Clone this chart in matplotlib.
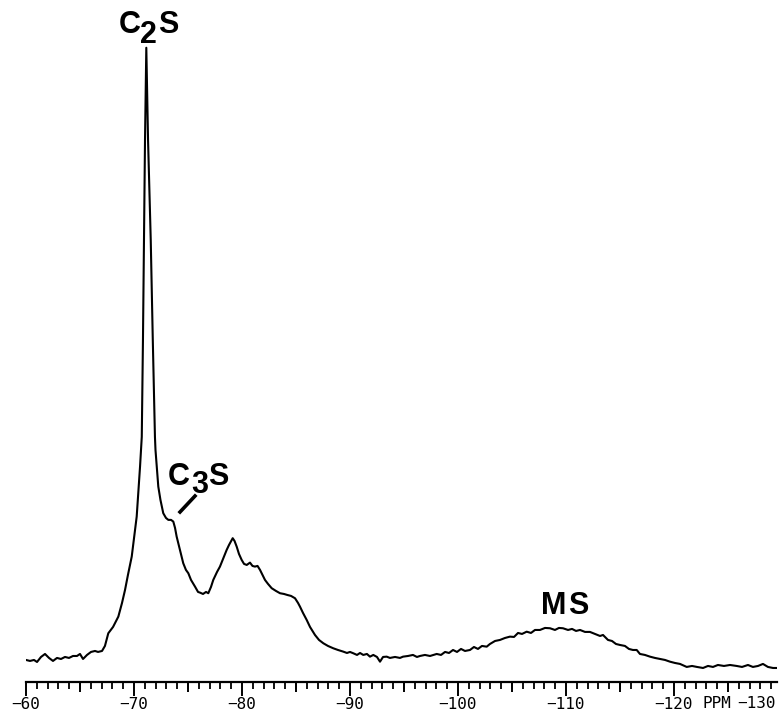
import matplotlib
matplotlib.use("Agg")
import matplotlib.pyplot as plt
from matplotlib.ticker import MultipleLocator

# ---- data: chemical shift (ppm) and relative intensity (peak = 100) ----
shift_ppm = [
    -60.00, -60.37, -60.74, -61.02, -61.39, -61.76, -62.13, -62.50, -62.87, -63.24,
    -63.61, -63.98, -64.35, -64.72, -65.00, -65.28, -65.65, -66.02, -66.39, -66.67,
    -67.04, -67.31, -67.62, -68.06, -68.55, -68.89, -69.17, -69.44, -69.79, -70.00,
    -70.25, -70.42, -70.56, -70.72, -70.83, -70.93, -71.02, -71.14, -71.30, -71.55,
    -71.74, -71.94, -71.99, -72.25, -72.45, -72.71, -72.96, -73.18, -73.43, -73.64,
    -73.80, -73.95, -74.26, -74.56, -74.81, -75.03, -75.28, -75.65, -75.93, -76.11,
    -76.39, -76.67, -76.88, -77.13, -77.34, -77.69, -77.96, -78.24, -78.58, -78.80,
    -79.14, -79.31, -79.51, -79.72, -79.97, -80.19, -80.44, -80.74, -80.97, -81.20,
    -81.44, -81.67, -81.90, -82.13, -82.41, -82.75, -83.15, -83.52, -83.89, -84.19,
    -84.54, -84.91, -85.19, -85.37, -85.65, -85.99, -86.30, -86.76, -87.13, -87.53,
    -87.96, -88.45, -88.89, -89.38, -89.72, -90.00, -90.31, -90.65, -90.93, -91.23,
    -91.57, -91.85, -92.16, -92.50, -92.78, -93.06, -93.40, -93.70, -94.17, -94.63,
    -94.91, -95.37, -95.83, -96.20, -96.48, -96.94, -97.41, -98.03, -98.43, -98.80,
    -99.17, -99.54, -99.91, -100.28, -100.65, -101.11, -101.48, -101.85, -102.22, -102.66,
    -102.96, -103.43, -103.89, -104.35, -104.81, -105.19, -105.56, -105.93, -106.36, -106.76,
    -107.13, -107.59, -108.06, -108.52, -108.98, -109.35, -109.72, -110.19, -110.56, -110.93,
    -111.30, -111.76, -112.22, -112.69, -113.15, -113.43, -113.89, -114.26, -114.63, -115.00,
    -115.46, -115.83, -116.20, -116.55, -116.85, -117.31, -117.78, -118.24, -118.70, -119.17,
    -119.63, -120.09, -120.56, -121.18, -121.67, -122.13, -122.69, -123.15, -123.61, -124.07,
    -124.63, -125.19, -125.81, -126.30, -126.85, -127.31, -127.78, -128.24, -128.70, -129.17,
    -129.54,
]
intensity = [
    0.00, -0.16, 0.00, -0.33, 0.49, 0.98, 0.33, -0.16, 0.33, 0.16,
    0.49, 0.33, 0.65, 0.65, 0.98, 0.16, 0.82, 1.31, 1.47, 1.31,
    1.47, 2.29, 4.36, 5.39, 7.08, 9.31, 11.44, 13.89, 16.88, 19.93,
    23.42, 27.78, 31.59, 36.44, 52.29, 68.63, 84.97, 100.00, 84.97, 68.63,
    52.29, 36.44, 34.31, 28.32, 26.14, 23.97, 23.20, 22.88, 22.88, 22.60,
    21.57, 20.15, 17.97, 15.80, 14.71, 14.17, 13.07, 11.98, 11.11, 11.00,
    10.78, 11.11, 10.90, 11.93, 13.07, 14.38, 15.25, 16.50, 17.97, 18.79,
    19.89, 19.44, 18.51, 17.32, 16.34, 15.69, 15.52, 15.90, 15.36, 15.25,
    15.36, 14.71, 13.89, 13.07, 12.42, 11.72, 11.27, 10.90, 10.78, 10.62,
    10.46, 10.08, 9.31, 8.71, 7.68, 6.54, 5.39, 4.08, 3.27, 2.73,
    2.29, 1.91, 1.63, 1.36, 1.14, 1.31, 1.09, 0.82, 1.14, 0.82,
    0.98, 0.54, 0.82, 0.49, -0.28, 0.49, 0.54, 0.33, 0.49, 0.33,
    0.54, 0.65, 0.82, 0.49, 0.65, 0.82, 0.65, 0.98, 0.82, 1.31,
    1.14, 1.63, 1.31, 1.80, 1.47, 1.63, 2.12, 1.80, 2.29, 2.17,
    2.61, 3.10, 3.27, 3.59, 3.81, 3.76, 4.41, 4.25, 4.62, 4.41,
    4.90, 4.90, 5.23, 5.18, 4.90, 5.23, 5.18, 4.90, 5.07, 4.74,
    4.90, 4.58, 4.58, 4.25, 3.92, 4.08, 3.27, 3.10, 2.61, 2.45,
    2.29, 1.80, 1.63, 1.63, 0.98, 0.82, 0.54, 0.33, 0.16, 0.00,
    -0.28, -0.49, -0.65, -1.14, -0.98, -1.14, -1.31, -0.98, -1.14, -0.82,
    -0.98, -0.82, -0.98, -1.14, -0.82, -1.14, -0.98, -0.65, -1.14, -1.31,
    -1.31,
]
major_ticks = [-60, -70, -80, -90, -100, -110, -120]
major_labels = ["\u221260", "\u221270", "\u221280", "\u221290", "\u2212100", "\u2212110", "\u2212120"]

W, H = 779, 715
fig = plt.figure(figsize=(W / 100, H / 100), dpi=100)
fig.patch.set_facecolor("white")

def fx(px):
    return px / W

def fy(py):
    return 1 - py / H

ax = fig.add_axes([fx(26), fy(682), fx(777) - fx(26), fy(0) - fy(682)])
ax.plot(shift_ppm, intensity, color="black", lw=1.5, solid_joinstyle="round")
ax.set_xlim(-60, -129.54)
ax.set_ylim(-3.6, 107.8)

for s in ["top", "right", "left"]:
    ax.spines[s].set_visible(False)
ax.spines["bottom"].set_linewidth(1.6)
ax.set_yticks([])

ax.set_xticks(major_ticks, labels=major_labels)
ax.xaxis.set_minor_locator(MultipleLocator(1))
ax.tick_params(axis="x", which="major", direction="out", length=10, width=1.4, pad=1.0,
               labelsize=11.5)
ax.tick_params(axis="x", which="minor", direction="out", length=5, width=1.3)
for lab in ax.get_xticklabels():
    lab.set_fontfamily("DejaVu Sans Mono")

# medium ticks at the 5 ppm marks
sec = ax.secondary_xaxis("bottom")
sec.set_xticks([-65, -75, -85, -95, -105, -115, -125], labels=[""] * 7)
sec.tick_params(axis="x", direction="out", length=7, width=1.4)
sec.spines["bottom"].set_visible(False)

mono = dict(family="DejaVu Sans Mono", fontsize=11.5, va="baseline", ha="center")
fig.text(fx(717), fy(708), "PPM", **mono)
fig.text(fx(757), fy(708), "\u2212130", **mono)

lab = dict(family="Liberation Sans", fontweight="bold", fontsize=22, va="baseline", ha="center")
# C2S
fig.text(fx(130), fy(33), "C", **lab)
fig.text(fx(148.5), fy(43), "2", **lab)
fig.text(fx(168.5), fy(33), "S", **lab)
# C3S
fig.text(fx(179), fy(485), "C", **lab)
fig.text(fx(199.5), fy(493), "3", **lab)
fig.text(fx(218), fy(485), "S", **lab)
fig.add_artist(plt.Line2D([fx(195), fx(180)], [fy(496), fy(512)], color="black", lw=2.6))
# MS
fig.text(fx(554), fy(614), "M", **lab)
fig.text(fx(578.5), fy(614), "S", **lab)

fig.savefig("out.png", dpi=100, facecolor="white")
